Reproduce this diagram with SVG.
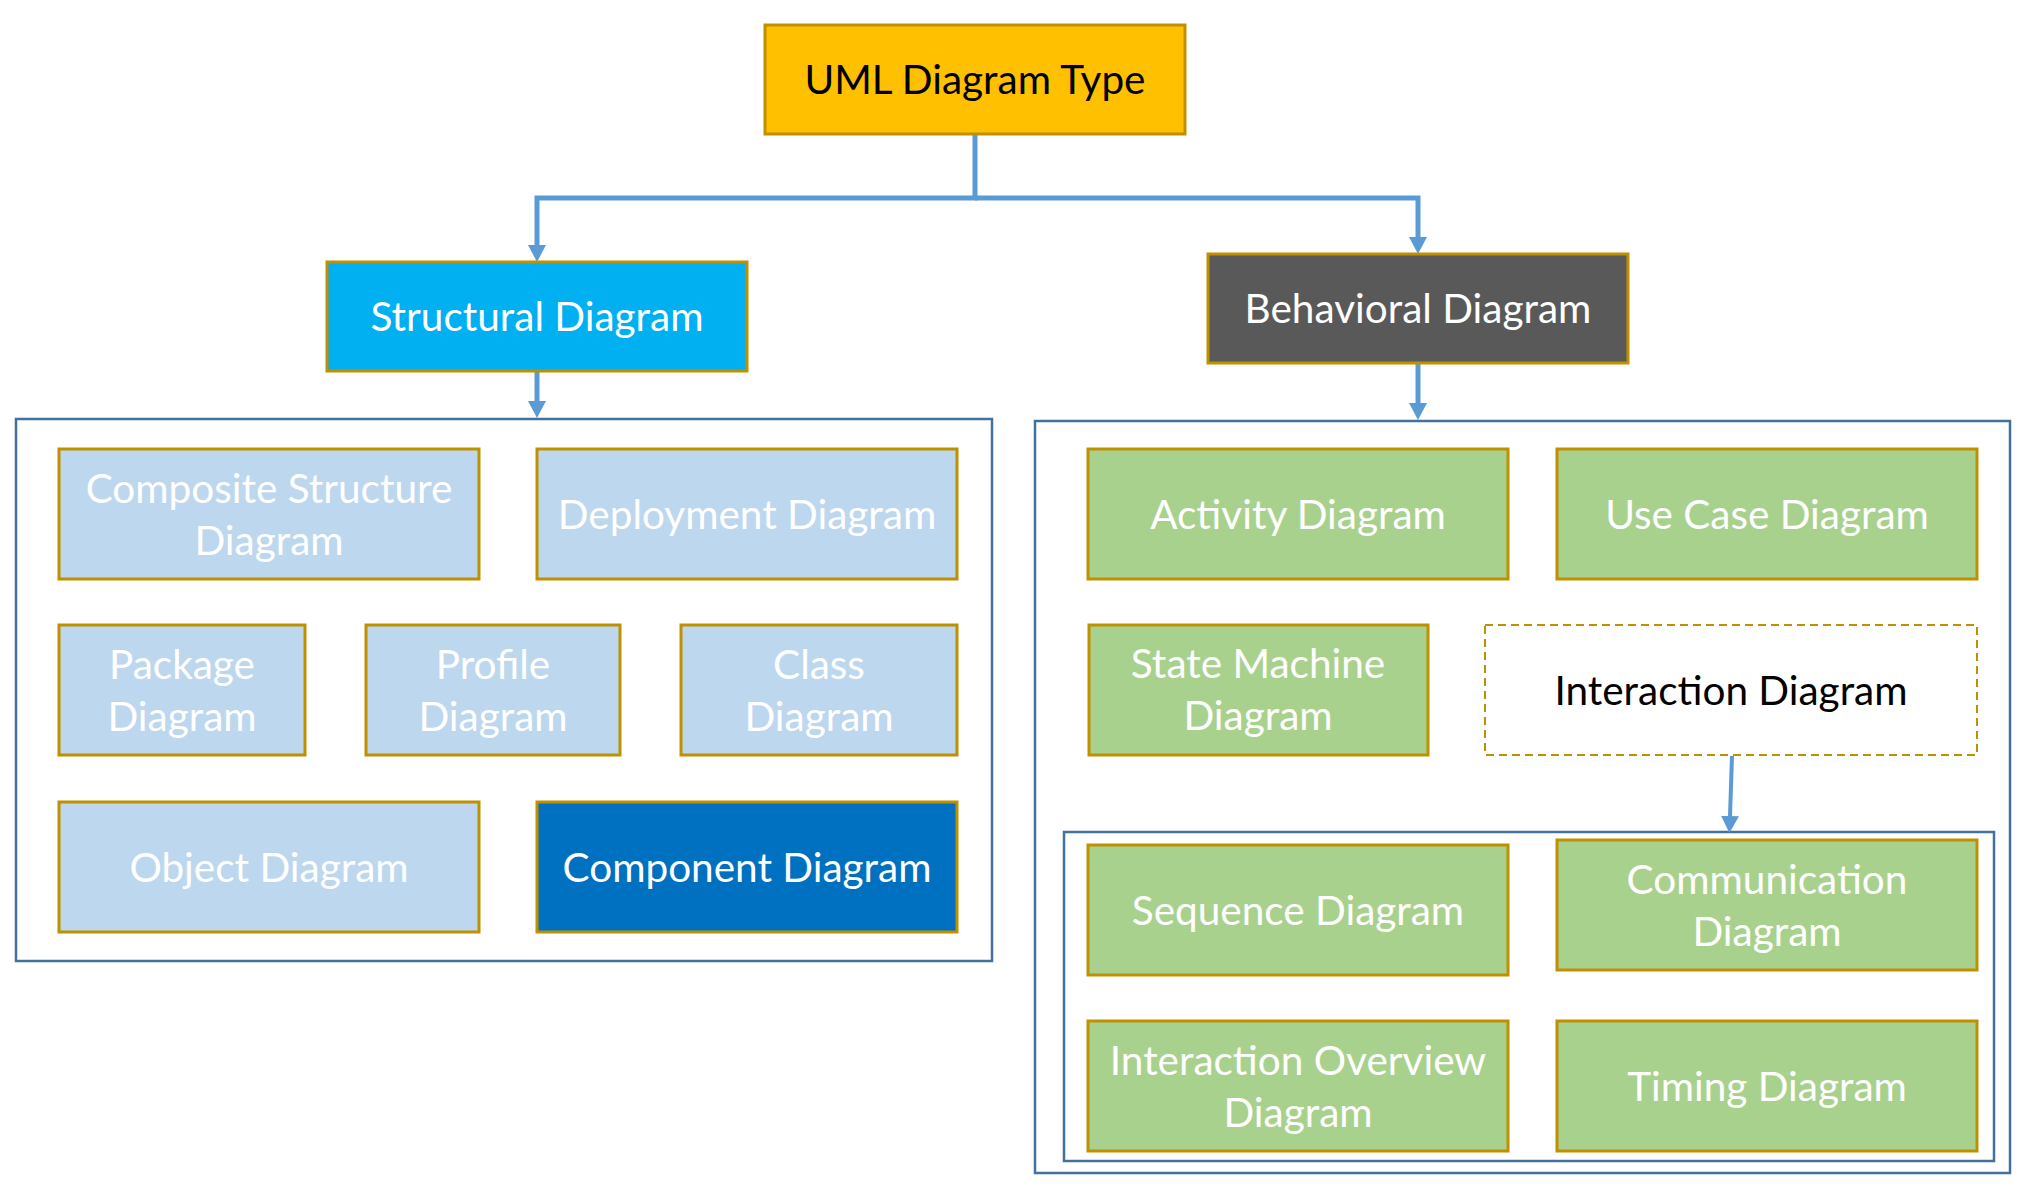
<svg xmlns="http://www.w3.org/2000/svg" width="2044" height="1190" viewBox="0 0 2044 1190">
<style>
  .box { stroke: #BF9000; stroke-width: 3; }
  .cont { fill: none; stroke: #41719C; stroke-width: 2.5; }
  .t { font-family: Lato, "Open Sans", "Liberation Sans", sans-serif; font-size: 40.5px; text-anchor: middle; fill: #FFFFFF; }
  .dark { fill: #000000; }
  .conn { fill: none; stroke: #5B9BD5; stroke-width: 5; }
</style>
<defs>
  <marker id="ah" markerUnits="userSpaceOnUse" markerWidth="18" markerHeight="18" refX="0" refY="9" orient="auto">
    <path d="M0,0 L17,9 L0,18 z" fill="#5B9BD5"/>
  </marker>
</defs>
<rect width="2044" height="1190" fill="#FFFFFF"/>

<g id="containers">
  <rect id="structural-group" class="cont" x="16" y="419" width="976" height="542"/>
  <rect id="behavioral-group" class="cont" x="1035" y="421" width="975" height="752"/>
  <rect id="interaction-group" class="cont" x="1064" y="832" width="930" height="329"/>
</g>

<g id="connectors">
  <path class="conn" d="M975,134 V198 H537 V245" marker-end="url(#ah)"/>
  <path class="conn" d="M975,198 H1418 V237" marker-end="url(#ah)"/>
  <path class="conn" d="M537,371 V401" marker-end="url(#ah)"/>
  <path class="conn" d="M1418,363 V403" marker-end="url(#ah)"/>
  <path class="conn" style="stroke-width:4" d="M1732,756 L1730,816" marker-end="url(#ah)"/>
</g>

<g id="uml">
  <rect class="box" x="765" y="25" width="420" height="109" fill="#FFC000"/>
  <text class="t dark" x="975" y="94">UML Diagram Type</text>
</g>
<g id="structural">
  <rect class="box" x="327" y="262" width="420" height="109" fill="#00B0F0"/>
  <text class="t" x="537" y="331">Structural Diagram</text>
</g>
<g id="behavioral">
  <rect class="box" x="1208" y="254" width="420" height="109" fill="#595959"/>
  <text class="t" x="1418" y="323">Behavioral Diagram</text>
</g>

<g id="composite">
  <rect class="box" x="59" y="449" width="420" height="130" fill="#BDD7EE"/>
  <text class="t" x="269" y="503">Composite Structure</text>
  <text class="t" x="269" y="555">Diagram</text>
</g>
<g id="deployment">
  <rect class="box" x="537" y="449" width="420" height="130" fill="#BDD7EE"/>
  <text class="t" x="747" y="529">Deployment Diagram</text>
</g>
<g id="package">
  <rect class="box" x="59" y="625" width="246" height="130" fill="#BDD7EE"/>
  <text class="t" x="182" y="679">Package</text>
  <text class="t" x="182" y="731">Diagram</text>
</g>
<g id="profile">
  <rect class="box" x="366" y="625" width="254" height="130" fill="#BDD7EE"/>
  <text class="t" x="493" y="679">Profile</text>
  <text class="t" x="493" y="731">Diagram</text>
</g>
<g id="class">
  <rect class="box" x="681" y="625" width="276" height="130" fill="#BDD7EE"/>
  <text class="t" x="819" y="679">Class</text>
  <text class="t" x="819" y="731">Diagram</text>
</g>
<g id="object">
  <rect class="box" x="59" y="802" width="420" height="130" fill="#BDD7EE"/>
  <text class="t" x="269" y="882">Object Diagram</text>
</g>
<g id="component">
  <rect class="box" x="537" y="802" width="420" height="130" fill="#0070C0"/>
  <text class="t" x="747" y="882">Component Diagram</text>
</g>

<g id="activity">
  <rect class="box" x="1088" y="449" width="420" height="130" fill="#A9D18E"/>
  <text class="t" x="1298" y="529">Activity Diagram</text>
</g>
<g id="usecase">
  <rect class="box" x="1557" y="449" width="420" height="130" fill="#A9D18E"/>
  <text class="t" x="1767" y="529">Use Case Diagram</text>
</g>
<g id="statemachine">
  <rect class="box" x="1089" y="625" width="339" height="130" fill="#A9D18E"/>
  <text class="t" x="1258" y="678">State Machine</text>
  <text class="t" x="1258" y="730">Diagram</text>
</g>
<g id="interaction">
  <rect x="1485" y="625" width="492" height="130" fill="#FFFFFF" stroke="#BF9000" stroke-width="2" stroke-dasharray="8,5"/>
  <text class="t dark" x="1731" y="705">Interaction Diagram</text>
</g>

<g id="sequence">
  <rect class="box" x="1088" y="845" width="420" height="130" fill="#A9D18E"/>
  <text class="t" x="1298" y="925">Sequence Diagram</text>
</g>
<g id="communication">
  <rect class="box" x="1557" y="840" width="420" height="130" fill="#A9D18E"/>
  <text class="t" x="1767" y="894">Communication</text>
  <text class="t" x="1767" y="946">Diagram</text>
</g>
<g id="overview">
  <rect class="box" x="1088" y="1021" width="420" height="130" fill="#A9D18E"/>
  <text class="t" x="1298" y="1075">Interaction Overview</text>
  <text class="t" x="1298" y="1127">Diagram</text>
</g>
<g id="timing">
  <rect class="box" x="1557" y="1021" width="420" height="130" fill="#A9D18E"/>
  <text class="t" x="1767" y="1101">Timing Diagram</text>
</g>
</svg>
